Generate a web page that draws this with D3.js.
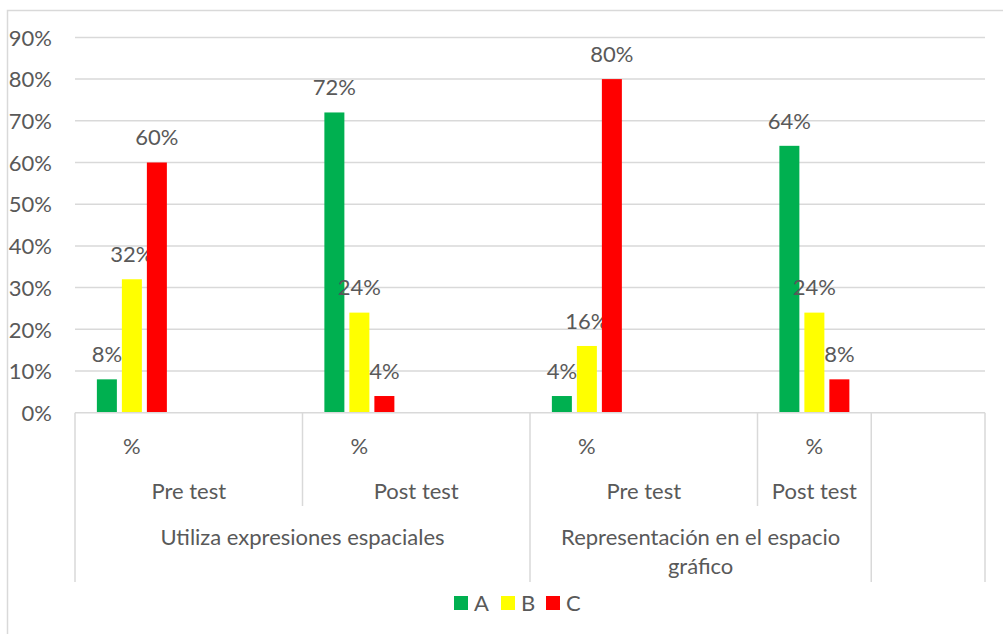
<!DOCTYPE html>
<html>
<head>
<meta charset="utf-8">
<script src="https://cdn.jsdelivr.net/npm/d3@7"></script>
<style>
  html, body { margin: 0; padding: 0; background: #fff; }
  svg { display: block; }
  text { font-family: Lato, "Open Sans", sans-serif; fill: #595959; }
</style>
</head>
<body>
<svg id="chart" width="1003" height="634"></svg>
<script>
// ---- data ----
const series = ["A", "B", "C"];
const seriesColors = ["#00B050", "#FFFF00", "#FF0000"];
const slots = [0, 1, 2, 3, 4, 5, 6, 7];
const level1Labels = ["%", "", "%", "", "%", "", "%", ""];
const level2Labels = ["Pre test", "Post test", "Pre test", "Post test", ""];
const level2Spans = [2, 2, 2, 1, 1];
const level3Labels = [["Utiliza expresiones espaciales"], ["Representación en el espacio", "gráfico"], [""]];
const level3Spans = [4, 3, 1];
const valuesA = [0.08, null, 0.72, null, 0.04, null, 0.64, null];
const valuesB = [0.32, null, 0.24, null, 0.16, null, 0.24, null];
const valuesC = [0.60, null, 0.04, null, 0.80, null, 0.08, null];
const yTicks = [0, 0.1, 0.2, 0.3, 0.4, 0.5, 0.6, 0.7, 0.8, 0.9];

const allValues = [valuesA, valuesB, valuesC];

(function () {
// ---- layout ----
const svg = d3.select("#chart");
const pLeft = 75, pRight = 985, pTop = 37.4, pBottom = 412.7;
const fs = 22;

// outer chart border
svg.append("rect")
  .attr("x", 7.5).attr("y", 10.5).attr("width", 1010).attr("height", 640)
  .attr("fill", "none").attr("stroke", "#d9d9d9").attr("stroke-width", 1.5);

const x = d3.scaleBand().domain(slots).range([pLeft, pRight]).padding(0);
const xs = d3.scaleBand().domain(series).range([-35, 35]).paddingInner(0.2).paddingOuter(0);
const y = d3.scaleLinear().domain([0, 0.9]).range([pBottom, pTop]);
const fmt = d3.format(".0%");

// gridlines
svg.append("g").selectAll("line").data(yTicks.filter(d => d > 0)).join("line")
  .attr("x1", pLeft).attr("x2", pRight)
  .attr("y1", d => y(d)).attr("y2", d => y(d))
  .attr("stroke", "#d9d9d9").attr("stroke-width", 1.5);

// y axis labels
const yAxis = d3.axisLeft(y).tickValues(yTicks).tickFormat(fmt).tickSize(0).tickPadding(0);
const yg = svg.append("g").attr("transform", `translate(52,0)`).call(yAxis);
yg.select(".domain").remove();
yg.selectAll("text").style("font-size", fs + "px").style("font-family", "Lato").attr("fill", "#595959").attr("dy", "0.35em");

// bars
series.forEach((s, si) => {
  const vals = allValues[si];
  const g = svg.append("g");
  const data = slots.map(i => ({ i, v: vals[i] })).filter(d => d.v != null);
  g.selectAll("rect").data(data).join("rect")
    .attr("x", d => x(d.i) + x.bandwidth() / 2 + xs(s))
    .attr("width", xs.bandwidth())
    .attr("y", d => y(d.v))
    .attr("height", d => y(0) - y(d.v))
    .attr("fill", seriesColors[si]);
  g.selectAll("text").data(data).join("text")
    .attr("x", d => x(d.i) + x.bandwidth() / 2 + xs(s) + xs.bandwidth() / 2)
    .attr("y", d => y(d.v) - 25)
    .attr("dy", "0.35em")
    .attr("text-anchor", "middle")
    .style("font-size", fs + "px")
    .text(d => fmt(d.v));
});

// category axis
const axisG = svg.append("g");
const line = (x1, y1, x2, y2) => axisG.append("line")
  .attr("x1", x1).attr("y1", y1).attr("x2", x2).attr("y2", y2)
  .attr("stroke", "#d9d9d9").attr("stroke-width", 1.5);
line(pLeft, pBottom, pRight, pBottom);

const y1Text = 446, y2Text = 491, y3Text = 537, lvl2Bottom = 506, lvl3Bottom = 582;

// level 1
axisG.selectAll("text.l1").data(slots).join("text").attr("class", "l1")
  .attr("x", d => x(d) + x.bandwidth() / 2).attr("y", y1Text).attr("dy", "0.35em")
  .attr("text-anchor", "middle").style("font-size", fs + "px")
  .text(d => level1Labels[d]);

// level 2
let start = 0;
level2Spans.forEach((span, k) => {
  const x0 = x(start), x1 = x(start + span - 1) + x.bandwidth();
  axisG.append("text").attr("x", (x0 + x1) / 2).attr("y", y2Text).attr("dy", "0.35em")
    .attr("text-anchor", "middle").style("font-size", fs + "px").text(level2Labels[k]);
  start += span;
});

// level 3
start = 0;
const l3Bounds = [pLeft];
level3Spans.forEach((span, k) => {
  const x0 = x(start), x1 = x(start + span - 1) + x.bandwidth();
  const lines = level3Labels[k];
  lines.forEach((t, li) => {
    axisG.append("text").attr("x", (x0 + x1) / 2).attr("y", y3Text + li * 29).attr("dy", "0.35em")
      .attr("text-anchor", "middle").style("font-size", fs + "px").text(t);
  });
  start += span;
  l3Bounds.push(x1);
});

// level-2 boundary lines (short unless also a level-3 boundary)
start = 0;
const l2Bounds = [pLeft];
level2Spans.forEach(span => { start += span; l2Bounds.push(x(start - 1) + x.bandwidth()); });
l2Bounds.forEach(b => {
  const full = l3Bounds.some(v => Math.abs(v - b) < 0.5);
  line(b, pBottom, b, full ? lvl3Bottom : lvl2Bottom);
});

// legend
const legend = svg.append("g");
const legX = [454, 501, 546];
series.forEach((s, si) => {
  legend.append("rect").attr("x", legX[si]).attr("y", 596).attr("width", 14).attr("height", 14)
    .attr("fill", seriesColors[si]);
  legend.append("text").attr("x", legX[si] + 20).attr("y", 603).attr("dy", "0.35em")
    .style("font-size", fs + "px").text(s);
});
})();
</script>
</body>
</html>
